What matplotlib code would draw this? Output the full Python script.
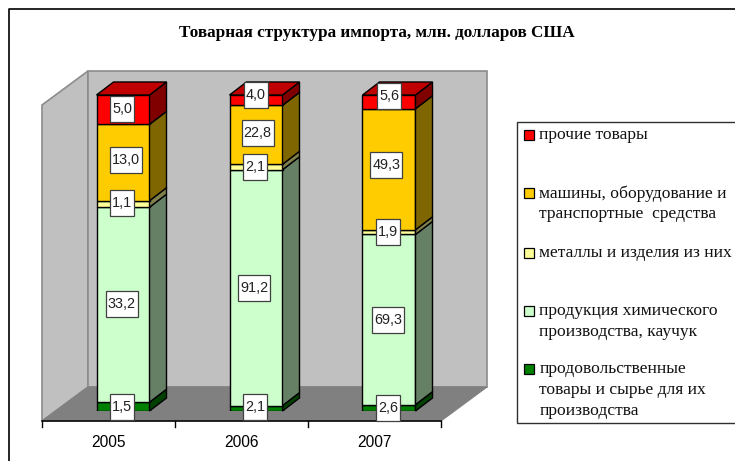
import matplotlib
matplotlib.use("Agg")
import matplotlib.pyplot as plt
from matplotlib.patches import Polygon, Rectangle

W, H = 735, 461

years = ["2005", "2006", "2007"]
food = [1.5, 2.1, 2.6]
chem = [33.2, 91.2, 69.3]
metal = [1.1, 2.1, 1.9]
machines = [13.0, 22.8, 49.3]
other = [5.0, 4.0, 5.6]

series = [food, chem, metal, machines, other]
front_colors = ["#008000", "#CCFFCC", "#FFFF99", "#FFCC00", "#FF0000"]
side_colors = ["#004000", "#668066", "#80804C", "#806600", "#800000"]
top_color = "#C00000"
legend_names = [
    "прочие товары",
    "машины, оборудование и\nтранспортные  средства",
    "металлы и изделия из них",
    "продукция химического\nпроизводства, каучук",
    "продовольственные\nтовары и сырье для их\nпроизводства",
]
legend_colors = ["#FF0000", "#FFCC00", "#FFFF99", "#CCFFCC", "#008000"]
legend_y = [135, 193, 253, 311, 369]

# hand placed label nudges in pixels (dx, dy up), one row per series
label_dx = [[-0.7, -1, -1], [-1.2, -2, -1.2], [-0.7, -1, -0.7], [3, 1.5, -2.5], [-0.7, -0.3, 0]]
label_dy = [[0, 1.6, 0], [0.4, 0, 0], [1.3, 0, 0], [2.2, 1.9, 4.5], [0.6, 5.2, 6]]

fig = plt.figure(figsize=(W / 100, H / 100), dpi=100)

# plot plane: x in categories, y in percent, bar front plane runs 411 to 95 px
ax = fig.add_axes([42 / W, 1 - 411 / H, 399 / W, 316 / H])
ax.set_xlim(0, 3)
ax.set_ylim(0, 100)
ax.axis("off")

px_x = 3 / 399
px_y = 100 / 316


def poly(points, face, edge="black", lw=1.0, z=1):
    ax.add_patch(Polygon(points, closed=True, facecolor=face, edgecolor=edge,
                         linewidth=lw, zorder=z, clip_on=False))


# walls and floor
floor_y = -10 * px_y
wall_dx, wall_dy = 46 * px_x, 34 * px_y
poly([(0, floor_y), (wall_dx, floor_y + wall_dy), (wall_dx, floor_y + wall_dy + 100), (0, floor_y + 100)],
     "#C0C0C0", "#8C8C8C", 1.2)
poly([(wall_dx, floor_y + wall_dy), (3 + wall_dx, floor_y + wall_dy), (3 + wall_dx, floor_y + wall_dy + 100),
      (wall_dx, floor_y + wall_dy + 100)], "#C0C0C0", "#8C8C8C", 1.2)
poly([(0, floor_y), (wall_dx, floor_y + wall_dy), (3 + wall_dx, floor_y + wall_dy), (3, floor_y)],
     "#808080", "#808080", 0.8, z=2)

# category axis with ticks
ax.plot([0, 3], [floor_y, floor_y], color="black", lw=1.1, zorder=3, clip_on=False)
for i in range(4):
    ax.plot([i, i], [floor_y, floor_y - 6 * px_y], color="black", lw=1.0, zorder=3, clip_on=False)
for i, year in enumerate(years):
    ax.text(i + 0.5, floor_y - 21 * px_y, year, ha="center", va="center",
            fontsize=11.2, family="Liberation Sans", color="black")

# stacked bars
bar_shift = 14.5 * px_x
bar_w = 53 * px_x
bar_dx, bar_dy = 17 * px_x, 13 * px_y
for i in range(len(years)):
    total = sum(s[i] for s in series)
    left = i + 0.5 + bar_shift - bar_w / 2
    bottom = 0
    for j, s in enumerate(series):
        h = s[i] / total * 100
        top = bottom + h
        ax.bar(left, h, bar_w, bottom=bottom, align="edge", color=front_colors[j],
               edgecolor="black", linewidth=1.0, zorder=5 + i)
        poly([(left + bar_w, bottom), (left + bar_w + bar_dx, bottom + bar_dy),
              (left + bar_w + bar_dx, top + bar_dy), (left + bar_w, top)], side_colors[j], z=5 + i)
        bottom = top
    poly([(left, 100), (left + bar_dx, 100 + bar_dy), (left + bar_w + bar_dx, 100 + bar_dy), (left + bar_w, 100)],
         top_color, z=5 + i)

# value labels
bottom_all = [0, 0, 0]
for j, s in enumerate(series):
    for i, v in enumerate(s):
        total = sum(q[i] for q in series)
        h = v / total * 100
        txt = f"{v:.1f}".replace(".", ",")
        cx = i + 0.5 + bar_shift + label_dx[j][i] * px_x
        cy = bottom_all[i] + h / 2 + label_dy[j][i] * px_y
        bw = (24 if len(txt) == 3 else 32) * px_x
        bh = 26 * px_y
        ax.add_patch(Rectangle((cx - bw / 2, cy - bh / 2), bw, bh, facecolor="white", edgecolor="#404040",
                               linewidth=0.9, zorder=20, clip_on=False))
        ax.text(cx, cy, txt, ha="center", va="center", fontsize=10.4,
                family="Liberation Sans", color="#222222", zorder=21)
        bottom_all[i] += h

# full figure overlay for title, legend and frame
ov = fig.add_axes([0, 0, 1, 1], facecolor="none")
ov.set_xlim(0, W)
ov.set_ylim(H, 0)
ov.axis("off")
ov.plot([9.5, 9.5, W], [H, 9, 9], color="black", lw=1.2)
ov.text(377, 33, "Товарная структура импорта, млн. долларов США", ha="center", va="center",
        fontsize=12.3, fontweight="bold", family="Liberation Serif")
ov.add_patch(Rectangle((517, 122), 219, 301, facecolor="white", edgecolor="#303030", linewidth=1.0))
for name, col, y in zip(legend_names, legend_colors, legend_y):
    ov.add_patch(Rectangle((524, y - 5), 10, 10, facecolor=col, edgecolor="black", linewidth=0.9))
    ov.text(539.3, y - 8, name, ha="left", va="top", fontsize=12.6, linespacing=1.4,
            family="Liberation Serif", color="#111111")

fig.savefig("out.png", dpi=100)
